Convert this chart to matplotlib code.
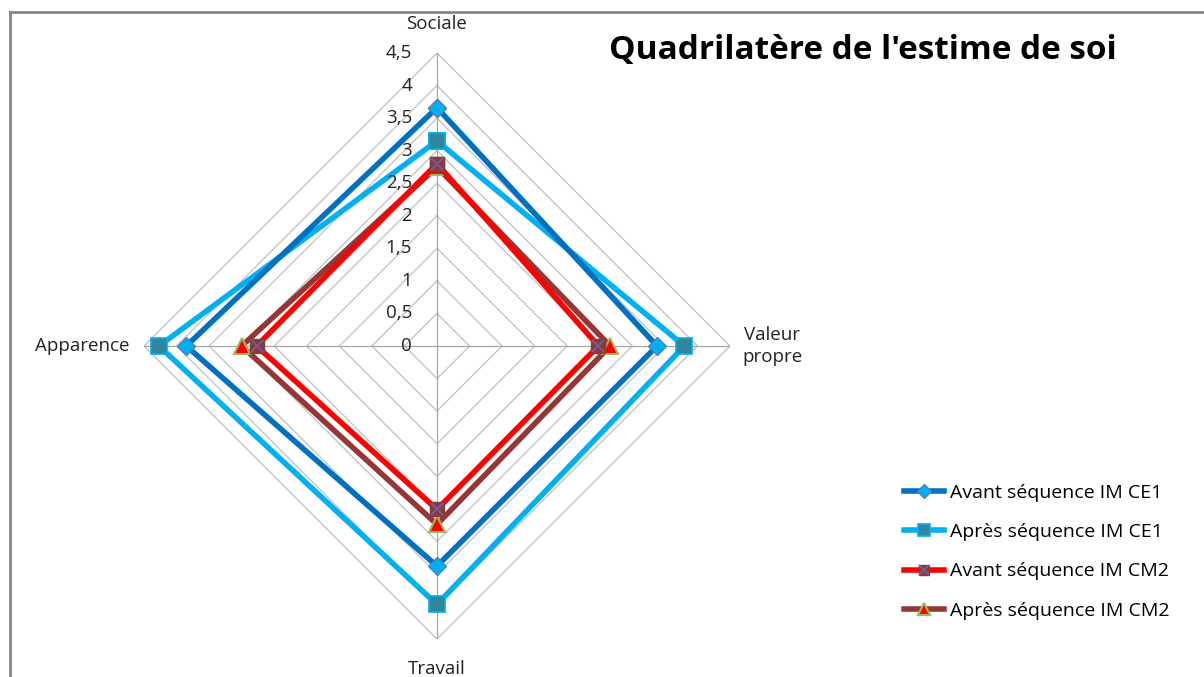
import numpy as np
import matplotlib.pyplot as plt
from matplotlib.lines import Line2D
from matplotlib.legend_handler import HandlerTuple
import matplotlib.transforms as mtransforms

# Data
categories = ['Sociale', 'Valeur\npropre', 'Travail', 'Apparence']
avant_ce1 = [3.66, 3.38, 3.38, 3.85]
apres_ce1 = [3.15, 3.80, 3.97, 4.27]
avant_cm2 = [2.80, 2.48, 2.51, 2.77]
apres_cm2 = [2.75, 2.66, 2.74, 3.00]
levels = [0, 0.5, 1, 1.5, 2, 2.5, 3, 3.5, 4, 4.5]
level_labels = ['0', '0,5', '1', '1,5', '2', '2,5', '3', '3,5', '4', '4,5']
title = "Quadrilatère de l'estime de soi"

plt.rcParams['font.family'] = ['Open Sans', 'DejaVu Sans']

fig = plt.figure(figsize=(12.04, 6.77), dpi=100)
ax = fig.add_axes([0.1196, 0.0561, 0.4867, 0.8656], projection='polar')
ax.set_theta_offset(np.pi / 2)
ax.set_theta_direction(-1)
ax.set_ylim(0, 4.5)
ax.grid(False)
ax.set_xticks([])
ax.set_yticks([])
ax.spines['polar'].set_visible(False)

angles = np.arange(len(categories)) * 2 * np.pi / len(categories)
closed = np.append(angles, angles[0])

# polygonal grid
for lv in levels[1:]:
    ax.plot(closed, [lv] * len(closed), color='#c0c0c0', lw=0.9, zorder=1)
for a in angles:
    ax.plot([a, a], [0, 4.5], color='#a6a6a6', lw=0.9, zorder=1)

# radial labels
off = mtransforms.offset_copy(ax.transData, fig=fig, x=-18, y=0, units='points')
for lv, lab in zip(levels, level_labels):
    ax.text(0, lv, lab, transform=off, ha='right', va='center',
            fontsize=13.5, color='#222222', zorder=10)

# category labels
label_pos = [(0, 4.95, 'center', 'center'), (angles[1], 5.15, 'center', 'center'),
             (angles[2], 4.96, 'center', 'center'), (angles[3], 4.72, 'right', 'center')]
for cat, (a, r, ha, va) in zip(categories, label_pos):
    ax.text(a, r, cat, ha=ha, va=va, fontsize=13.5, color='#222222',
            linespacing=1.3, clip_on=False)

def close(v):
    return np.append(v, v[0])

lw = 4
h1, = ax.plot(closed, close(avant_ce1), color='#0070C0', lw=lw, marker='D', ms=9,
              mfc='#00B0F0', mec='#4F81BD', mew=1, zorder=5, clip_on=False)
h2, = ax.plot(closed, close(apres_ce1), color='#00B0F0', lw=lw, marker='s', ms=12,
              mfc='#31859C', mec='#00B0F0', mew=1.2, zorder=4, clip_on=False)
h3, = ax.plot(closed, close(avant_cm2), color='#FF0000', lw=lw, marker='s', ms=10,
              mfc='#8B3A3A', mec='#8B3A3A', mew=1, zorder=3, clip_on=False)
h3x, = ax.plot(angles, avant_cm2, ls='none', marker='x', ms=9, mec='#7060A0', mew=1.3,
               zorder=3.5, clip_on=False)
h4, = ax.plot(closed, close(apres_cm2), color='#953735', lw=lw, marker='^', ms=12,
              mfc='#FF0000', mec='#9BBB59', mew=1.5, zorder=2.5, clip_on=False)

fig.legend([h1, h2, (h3, h3x), h4],
           ['Avant séquence IM CE1', 'Après séquence IM CE1',
            'Avant séquence IM CM2', 'Après séquence IM CM2'],
           handler_map={tuple: HandlerTuple(ndivide=1, pad=0)},
           loc='upper left', bbox_to_anchor=(0.744, 0.297), frameon=False,
           fontsize=14, labelspacing=1.1, handlelength=2.1, handletextpad=0.3,
           borderaxespad=0, markerscale=0.75)

fig.text(0.506, 0.925, title, ha='left', va='center', fontsize=24, fontweight='bold')

# chart border
fig.add_artist(Line2D([0.0083, 0.0083], [0, 0.982], color='#888888', lw=2))
fig.add_artist(Line2D([0.0083, 1], [0.982, 0.982], color='#888888', lw=2))

fig.savefig('out.png', dpi=100)
